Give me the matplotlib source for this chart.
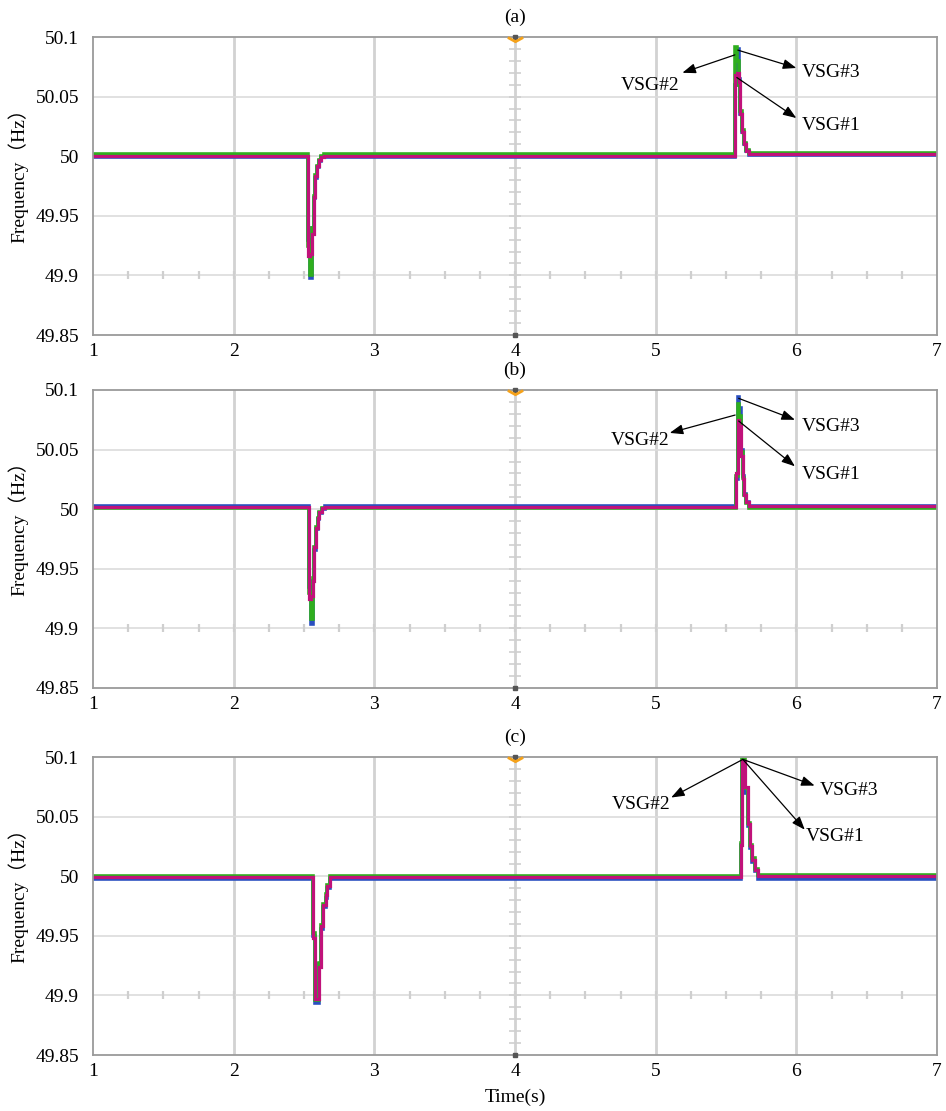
import matplotlib
matplotlib.use("Agg")
import matplotlib.pyplot as plt
from matplotlib.path import Path
import numpy as np

plt.rcParams['font.family'] = ['Liberation Serif', 'Noto Sans CJK SC', 'DejaVu Sans']

# ---------------- data ----------------
panel_titles = ["(a)", "(b)", "(c)"]
series_names = ["VSG#1", "VSG#2", "VSG#3"]
x_ticks = [1, 2, 3, 4, 5, 6, 7]
y_ticks = [49.85, 49.9, 49.95, 50.0, 50.05, 50.1]
y_ticklabels = ["49.85", "49.9", "49.95", "50", "50.05", "50.1"]

# panel (a)
t_a = [1.0, 2.528, 2.543, 2.556, 2.568, 2.580, 2.592, 2.604, 2.620, 2.640,
       5.565, 5.578, 5.590, 5.602, 5.614, 5.626, 5.640, 5.660, 7.0]
f_a_vsg1 = [50.0, 49.916, 49.918, 49.935, 49.966, 49.983, 49.992, 49.997, 49.999, 50.0,
            50.068, 50.070, 50.062, 50.035, 50.020, 50.010, 50.004, 50.002, 50.002]
f_a_vsg2 = [50.0015, 49.925, 49.900, 49.940, 49.967, 49.984, 49.992, 49.997, 50.000, 50.0015,
            50.092, 50.080, 50.060, 50.038, 50.022, 50.011, 50.005, 50.003, 50.003]
f_a_vsg3 = [49.9995, 49.930, 49.898, 49.940, 49.965, 49.982, 49.991, 49.996, 49.999, 49.9995,
            50.060, 50.090, 50.065, 50.035, 50.020, 50.010, 50.004, 50.001, 50.001]

# panel (b)
t_b = [1.0, 2.535, 2.550, 2.562, 2.574, 2.586, 2.598, 2.610, 2.626, 2.646,
       5.570, 5.583, 5.595, 5.607, 5.619, 5.631, 5.645, 5.665, 7.0]
f_b_vsg1 = [50.002, 49.925, 49.927, 49.940, 49.968, 49.984, 49.993, 49.998, 50.001, 50.002,
            50.030, 50.075, 50.070, 50.045, 50.025, 50.012, 50.006, 50.003, 50.003]
f_b_vsg2 = [50.001, 49.930, 49.908, 49.942, 49.968, 49.985, 49.993, 49.998, 50.001, 50.001,
            50.028, 50.088, 50.078, 50.048, 50.026, 50.012, 50.005, 50.001, 50.001]
f_b_vsg3 = [50.003, 49.935, 49.904, 49.940, 49.966, 49.983, 49.992, 49.997, 50.000, 50.003,
            50.025, 50.094, 50.085, 50.050, 50.028, 50.013, 50.006, 50.003, 50.003]

# panel (c)
t_c = [1.0, 2.566, 2.578, 2.609, 2.618, 2.637, 2.654, 2.665, 2.684,
       5.610, 5.617, 5.638, 5.657, 5.670, 5.685, 5.705, 5.726, 7.0]
f_c_vsg1 = [49.9995, 49.948, 49.897, 49.924, 49.958, 49.976, 49.984, 49.992, 49.9995,
            50.026, 50.097, 50.075, 50.044, 50.025, 50.014, 50.005, 50.000, 50.000]
f_c_vsg2 = [50.0005, 49.952, 49.896, 49.927, 49.959, 49.977, 49.985, 49.993, 50.0005,
            50.028, 50.098, 50.074, 50.045, 50.026, 50.015, 50.006, 50.001, 50.001]
f_c_vsg3 = [49.998, 49.950, 49.894, 49.926, 49.956, 49.974, 49.982, 49.990, 49.998,
            50.026, 50.096, 50.070, 50.042, 50.024, 50.012, 50.004, 49.998, 49.998]

# annotation geometry per panel: (label, arrow tail (t,f), arrow head (t,f), text pos (t,f), ha)
annot_a = [("VSG#2", (5.563, 50.085), (5.19, 50.070), (4.96, 50.059), "center"),
           ("VSG#3", (5.584, 50.089), (6.00, 50.074), (6.04, 50.070), "left"),
           ("VSG#1", (5.577, 50.066), (6.00, 50.032), (6.04, 50.026), "left")]
annot_b = [("VSG#2", (5.565, 50.079), (5.10, 50.064), (4.89, 50.058), "center"),
           ("VSG#3", (5.590, 50.093), (5.99, 50.075), (6.04, 50.069), "left"),
           ("VSG#1", (5.590, 50.074), (5.99, 50.036), (6.04, 50.029), "left")]
annot_c = [("VSG#2", (5.620, 50.098), (5.11, 50.066), (4.90, 50.060), "center"),
           ("VSG#3", (5.620, 50.098), (6.13, 50.076), (6.17, 50.072), "left"),
           ("VSG#1", (5.620, 50.098), (6.06, 50.039), (6.07, 50.033), "left")]

panels = [
    (t_a, [f_a_vsg3, f_a_vsg2, f_a_vsg1], annot_a),
    (t_b, [f_b_vsg3, f_b_vsg2, f_b_vsg1], annot_b),
    (t_c, [f_c_vsg3, f_c_vsg2, f_c_vsg1], annot_c),
]
colors = ["#2a4fc0", "#2fae1e", "#c0127a"]  # drawn order: VSG#3 blue, VSG#2 green, VSG#1 magenta
widths = [2.6, 2.6, 2.3]

# ---------------- figure ----------------
fig = plt.figure(figsize=(9.46, 11.11), dpi=100)
left, width = 93 / 946, (937 - 93) / 946
tops = [37, 390, 757]
h_px = 298

spine_col = "#9a9a9a"
grid_col = "#d2d2d2"
chevron = Path([(-1.0, 0.0), (0.0, -0.55), (1.0, 0.0)],
               [Path.MOVETO, Path.LINETO, Path.LINETO])

for i, (t, series, annots) in enumerate(panels):
    top = tops[i]
    ax = fig.add_axes([left, 1 - (top + h_px) / 1111, width, h_px / 1111])
    ax.set_xlim(1, 7)
    ax.set_ylim(49.85, 50.1)

    # grid
    for xv in x_ticks[1:-1]:
        ax.axvline(xv, color=grid_col, lw=2.0, zorder=0)
    for yv in y_ticks[1:-1]:
        ax.axhline(yv, color="#dcdcdc", lw=1.2, zorder=0)

    # oscilloscope centre-cross minor ticks
    ymin_ticks = np.arange(49.86, 50.1, 0.01)
    ax.plot(np.full_like(ymin_ticks, 4.0), ymin_ticks, ls="none", marker="_",
            ms=8, mew=1.2, color="#cfcfcf", zorder=0.5)
    xmin_ticks = np.arange(1.25, 7.0, 0.25)
    ax.plot(xmin_ticks, np.full_like(xmin_ticks, 49.9), ls="none", marker="|",
            ms=6, mew=1.6, color="#cfcfcf", zorder=0.5)
    ax.plot([4.0], [49.85], marker="s", ms=2.5, color="#555555", clip_on=False, zorder=5)
    ax.plot([4.0], [50.1], marker="s", ms=2.5, color="#555555", clip_on=False, zorder=5)
    ax.plot([4.0], [50.1], marker=chevron, ms=11, mew=2.0, mfc="none", mec="#f5a21b",
            ls="none", clip_on=False, zorder=6)

    for f, c, w in zip(series, colors, widths):
        ax.plot(t, f, drawstyle="steps-post", color=c, lw=w, zorder=2,
                solid_joinstyle="miter")

    for label, tail, head, tpos, ha in annots:
        ax.annotate("", xy=head, xytext=tail,
                    arrowprops=dict(arrowstyle="-|>,head_length=0.8,head_width=0.3",
                                    color="black", lw=0.9, shrinkA=0, shrinkB=0),
                    zorder=7)
        ax.text(tpos[0], tpos[1], label, ha=ha, va="center", fontsize=14, zorder=7)

    ax.set_xticks(x_ticks)
    ax.set_xticklabels([str(v) for v in x_ticks])
    ax.set_yticks(y_ticks)
    ax.set_yticklabels(y_ticklabels)
    ax.tick_params(axis="x", length=0, labelsize=14, pad=6)
    ax.tick_params(axis="y", length=0, labelsize=14, pad=10)
    for sp in ax.spines.values():
        sp.set_color(spine_col)
        sp.set_linewidth(1.3)
    ax.set_ylabel("Frequency（Hz）", fontsize=14)
    ax.yaxis.set_label_coords(-0.077, 0.55)
    ax.set_title(panel_titles[i], fontsize=14, pad=11)
    if i == 2:
        ax.set_xlabel("Time(s)", fontsize=14, labelpad=6)

fig.savefig("out.png", dpi=100)
